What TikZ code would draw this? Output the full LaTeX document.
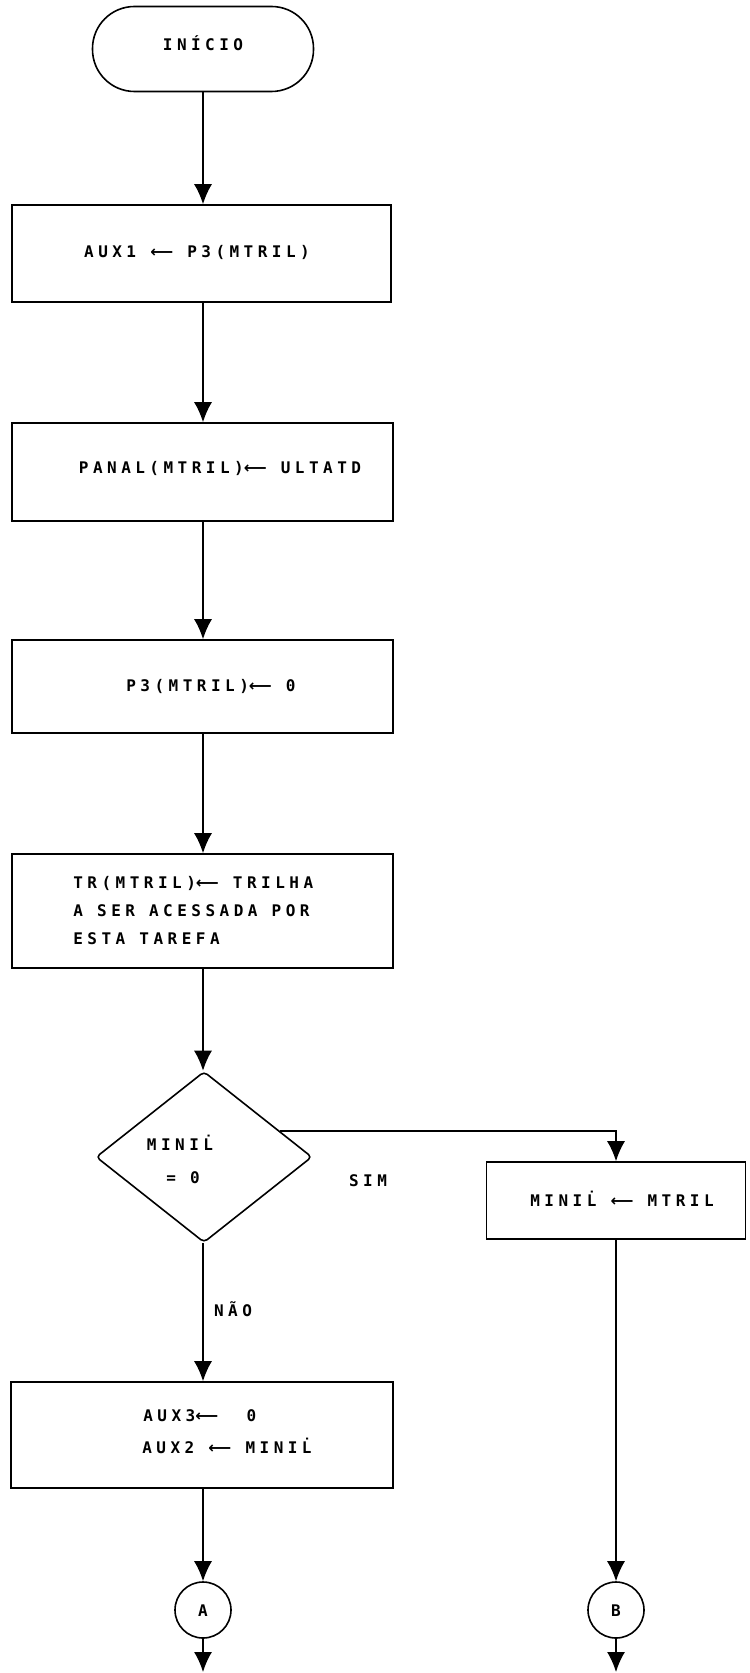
\documentclass[tikz,border=0pt]{standalone}
\usepackage{fontspec}
\setmainfont{DejaVu Sans Mono}[LetterSpace=28]
\newfontfamily\arrowfont{DejaVu Sans}
\usetikzlibrary{arrows.meta,shapes.geometric,calc}

% typewriter-like lettering and flowchart parts
\tikzset{
  conn/.style={line width=0.7pt,-{Latex[width=9pt,length=10pt]}},
  procbox/.style={draw,line width=0.8pt,rectangle,inner sep=0pt},
  termbox/.style={draw,line width=0.8pt,rectangle,rounded corners=21pt,inner sep=0pt},
  decbox/.style={draw,line width=0.8pt,diamond,rounded corners=2pt,inner sep=0pt},
  connector/.style={draw,line width=0.8pt,circle,inner sep=0pt,minimum size=28pt},
  txt/.style={font=\fontsize{8}{14}\selectfont\bfseries,inner sep=0pt,anchor=base},
  txtl/.style={txt,anchor=base west},
}
\newcommand{\lvar}{L\char"0307\relax}
\newcommand{\larr}{{\arrowfont\bfseries\char"27F5}}

\begin{document}
\begin{tikzpicture}[x=0.5pt,y=-0.5pt]
\useasboundingbox (0,0) rectangle (749,1673);

% shapes
\node[termbox,minimum width=110.5pt,minimum height=42.5pt] (start) at (203,49) {};
\node[procbox,minimum width=189.5pt,minimum height=48.5pt] (b1) at (201.5,253.5) {};
\node[procbox,minimum width=190.5pt,minimum height=49pt] (b2) at (202.5,472) {};
\node[procbox,minimum width=190.5pt,minimum height=46.5pt] (b3) at (202.5,686.5) {};
\node[procbox,minimum width=190.5pt,minimum height=57pt] (b4) at (202.5,911) {};
\node[decbox,minimum width=108pt,minimum height=85.5pt] (d) at (204,1157) {};
\node[procbox,minimum width=129.5pt,minimum height=38.5pt] (b5) at (616,1200.5) {};
\node[procbox,minimum width=191pt,minimum height=53pt] (b6) at (202,1435) {};
\node[connector] (cA) at (203,1610) {};
\node[connector] (cB) at (616,1610) {};

% texts
\node[txt] (t0) at (203,51) {INÍCIO};
\node[txt] (t1) at (197,258) {AUX1 \larr\ P3(MTRIL)};
\node[txt] (t2) at (220,474) {PANAL(MTRIL)\larr\ ULTATD};
\node[txt] (t3) at (211,691) {P3(MTRIL)\larr\ 0};
\node[txtl] (t4a) at (73,888) {TR(MTRIL)\larr\ TRILHA};
\node[txtl] (t4b) at (73,916) {A SER ACESSADA POR};
\node[txtl] (t4c) at (73,944) {ESTA TAREFA};
\node[txt] (td1) at (180,1150) {MINI\lvar};
\node[txt] (td2) at (183,1183) {= 0};
\node[txt] (sim) at (368,1186) {SIM};
\node[txt] (t5) at (622,1206) {MINI\lvar\ \larr\ MTRIL};
\node[txt] (nao) at (233,1316) {NÃO};
\node[txtl] (t6a) at (143,1421) {AUX3\larr\ \ 0};
\node[txtl] (t6b) at (142,1453) {AUX2 \larr\ MINI\lvar};
\node[txt] (tA) at (203,1616) {A};
\node[txt] (tB) at (616,1616) {B};

% flow
\coordinate (yes) at ($(d.north)!0.7!(d.east)$);
\coordinate (endA) at (203,1672);
\coordinate (endB) at (616,1672);
\draw[conn] (start.south) -- (start.south |- b1.north);
\draw[conn] (b1.south -| start.south) -- (start.south |- b2.north);
\draw[conn] (b2.south -| start.south) -- (start.south |- b3.north);
\draw[conn] (b3.south -| start.south) -- (start.south |- b4.north);
\draw[conn] (b4.south -| start.south) -- (start.south |- d.north);
\draw[conn] (yes) -| (b5.north);
\draw[conn] (d.south -| start.south) -- (start.south |- b6.north);
\draw[conn] (b5.south) -- (cB.north);
\draw[conn] (b6.south -| cA.north) -- (cA.north);
\draw[conn] (cA.south) -- (endA);
\draw[conn] (cB.south) -- (endB);
\end{tikzpicture}
\end{document}
